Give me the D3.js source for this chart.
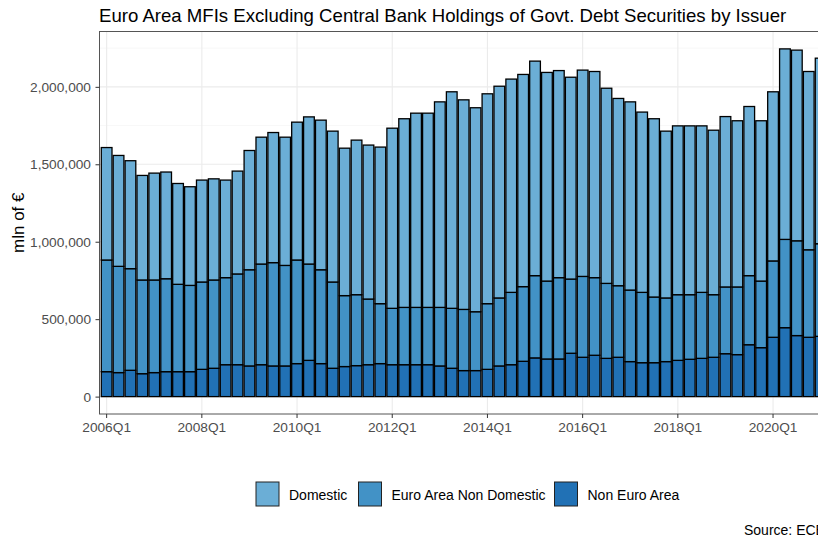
<!DOCTYPE html>
<html>
<head>
<meta charset="utf-8">
<script src="https://cdn.jsdelivr.net/npm/d3@7"></script>
<style>
  body { margin: 0; background: #fff; }
  svg { display: block; font-family: "Liberation Sans", Arial, sans-serif; }
</style>
</head>
<body>
<div id="chart"></div>
<script>
// Quarters 2006Q1 .. 2021Q1
const quarters = [];
for (let yr = 2006; yr <= 2021; yr++) {
  for (let q = 1; q <= 4; q++) {
    if (yr === 2021 && q > 1) break;
    quarters.push(yr + "Q" + q);
  }
}

// mln of €
const domestic = [
  726000, 716000, 697000, 675000, 690000, 689000, 651000, 637000,
  658000, 653000, 630000, 664000, 770000, 819000, 840000, 828000,
  890000, 950000, 966000, 974000, 952000, 998000, 994000, 1011000,
  1163000, 1218000, 1254000, 1254000, 1327000, 1398000, 1353000, 1317000,
  1355000, 1367000, 1377000, 1370000, 1385000, 1347000, 1337000, 1303000,
  1332000, 1331000, 1260000, 1209000, 1215000, 1164000, 1151000, 1077000,
  1090000, 1090000, 1075000, 1062000, 1100000, 1073000, 1092000, 1035000,
  1092000, 1230000, 1231000, 1151000, 1198000
];
const euroAreaNonDomestic = [
  721000, 686000, 656000, 605000, 598000, 600000, 564000, 557000,
  564000, 570000, 562000, 586000, 621000, 650000, 667000, 649000,
  669000, 622000, 606000, 557000, 458000, 458000, 424000, 387000,
  364000, 370000, 370000, 370000, 378000, 387000, 395000, 380000,
  424000, 439000, 467000, 482000, 531000, 503000, 525000, 479000,
  522000, 501000, 484000, 462000, 462000, 454000, 424000, 411000,
  424000, 417000, 426000, 404000, 431000, 437000, 446000, 430000,
  493000, 570000, 612000, 565000, 598000
];
const nonEuroArea = [
  161000, 155000, 170000, 148000, 155000, 161000, 161000, 161000,
  176000, 183000, 206000, 206000, 198000, 206000, 198000, 198000,
  213000, 234000, 213000, 183000, 194000, 200000, 206000, 213000,
  206000, 206000, 206000, 206000, 198000, 183000, 168000, 168000,
  176000, 198000, 206000, 228000, 250000, 243000, 243000, 280000,
  254000, 267000, 247000, 254000, 226000, 219000, 219000, 226000,
  234000, 241000, 247000, 254000, 277000, 271000, 335000, 316000,
  383000, 445000, 394000, 383000, 389000
];

const seriesNames = ["Domestic", "Euro Area Non Domestic", "Non Euro Area"];
const seriesColors = ["#6baed6", "#4292c6", "#2171b5"];
const yTicks = [0, 500000, 1000000, 1500000, 2000000];
const yMinorTicks = [250000, 750000, 1250000, 1750000, 2250000];
const xTickLabels = ["2006Q1", "2008Q1", "2010Q1", "2012Q1", "2014Q1", "2016Q1", "2018Q1", "2020Q1"];

const width = 818, height = 540;
const panel = { left: 99.5, top: 31.5, bottom: 414 };
const step = 11.9;
panel.right = panel.left + (quarters.length + 0.2) * step;

const rows = quarters.map((q, i) => ({
  quarter: q,
  "Domestic": domestic[i],
  "Euro Area Non Domestic": euroAreaNonDomestic[i],
  "Non Euro Area": nonEuroArea[i]
}));

// stack order: Non Euro Area at the bottom
const stack = d3.stack().keys(seriesNames.slice().reverse());
const layers = stack(rows);
const maxTotal = d3.max(layers[layers.length - 1], d => d[1]);

const x = d3.scaleBand()
  .domain(quarters)
  .range([panel.left, panel.right])
  .paddingInner(0.1)
  .paddingOuter(0.15);

const y = d3.scaleLinear()
  .domain([-0.05 * maxTotal, 1.05 * maxTotal])
  .range([panel.bottom, panel.top]);

const color = d3.scaleOrdinal().domain(seriesNames).range(seriesColors);

const svg = d3.select("#chart").append("svg")
  .attr("width", width)
  .attr("height", height);

// Gridlines
const grid = svg.append("g");
grid.selectAll("line.minor")
  .data(yMinorTicks)
  .enter().append("line")
  .attr("x1", panel.left).attr("x2", panel.right)
  .attr("y1", d => y(d)).attr("y2", d => y(d))
  .attr("stroke", "#f2f2f2").attr("stroke-width", 0.6);
grid.selectAll("line.major")
  .data(yTicks)
  .enter().append("line")
  .attr("x1", panel.left).attr("x2", panel.right)
  .attr("y1", d => y(d)).attr("y2", d => y(d))
  .attr("stroke", "#ebebeb").attr("stroke-width", 1.1);
grid.selectAll("line.vert")
  .data(xTickLabels)
  .enter().append("line")
  .attr("x1", d => x(d) + x.bandwidth() / 2).attr("x2", d => x(d) + x.bandwidth() / 2)
  .attr("y1", panel.top).attr("y2", panel.bottom)
  .attr("stroke", "#ebebeb").attr("stroke-width", 1.1);

// Bars
svg.append("g").selectAll("g")
  .data(layers)
  .enter().append("g")
  .attr("fill", d => color(d.key))
  .selectAll("rect")
  .data(d => d)
  .enter().append("rect")
  .attr("x", d => x(d.data.quarter))
  .attr("width", x.bandwidth())
  .attr("y", d => y(d[1]))
  .attr("height", d => y(d[0]) - y(d[1]))
  .attr("stroke", "#000")
  .attr("stroke-width", 1.3);

// Panel border
svg.append("rect")
  .attr("x", panel.left).attr("y", panel.top)
  .attr("width", panel.right - panel.left)
  .attr("height", panel.bottom - panel.top)
  .attr("fill", "none")
  .attr("stroke", "#555").attr("stroke-width", 1);

// Y axis
const yAxis = svg.append("g")
  .attr("transform", `translate(${panel.left},0)`)
  .call(d3.axisLeft(y).tickValues(yTicks).tickSize(4).tickPadding(4.5)
    .tickFormat(d3.format(",")));
yAxis.select(".domain").remove();
yAxis.selectAll("line").attr("stroke", "#333");
yAxis.selectAll("text")
  .attr("fill", "#4d4d4d")
  .style("font-size", "13.7px")
  .style("font-family", "Liberation Sans, Arial, sans-serif");

// X axis
const xAxis = svg.append("g")
  .attr("transform", `translate(0,${panel.bottom})`)
  .call(d3.axisBottom(x).tickValues(xTickLabels).tickSize(4).tickPadding(4));
xAxis.select(".domain").remove();
xAxis.selectAll("line").attr("stroke", "#333");
xAxis.selectAll("text")
  .attr("fill", "#4d4d4d")
  .style("font-size", "13.7px")
  .style("font-family", "Liberation Sans, Arial, sans-serif");

// Title
svg.append("text")
  .attr("x", 99).attr("y", 22)
  .style("font-size", "18.6px")
  .attr("fill", "#000")
  .text("Euro Area MFIs Excluding Central Bank Holdings of Govt. Debt Securities by Issuer");

// Y axis title
svg.append("text")
  .attr("transform", `translate(24,${(panel.top + panel.bottom) / 2}) rotate(-90)`)
  .attr("text-anchor", "middle")
  .style("font-size", "17px")
  .attr("fill", "#000")
  .text("mln of €");

// Legend
const legendX = [256, 358.5, 554.5];
const legend = svg.append("g").selectAll("g")
  .data(seriesNames)
  .enter().append("g")
  .attr("transform", (d, i) => `translate(${legendX[i]},482)`);
legend.append("rect")
  .attr("width", 23).attr("height", 24)
  .attr("fill", d => color(d))
  .attr("stroke", "#222").attr("stroke-width", 1);
legend.append("text")
  .attr("x", 33).attr("y", 17.5)
  .style("font-size", "14px")
  .attr("fill", "#000")
  .text(d => d);

// Caption (runs past the right edge, as in the source image)
svg.append("text")
  .attr("x", 744).attr("y", 535)
  .style("font-size", "14px")
  .attr("fill", "#000")
  .text("Source: ECB");
</script>
</body>
</html>
